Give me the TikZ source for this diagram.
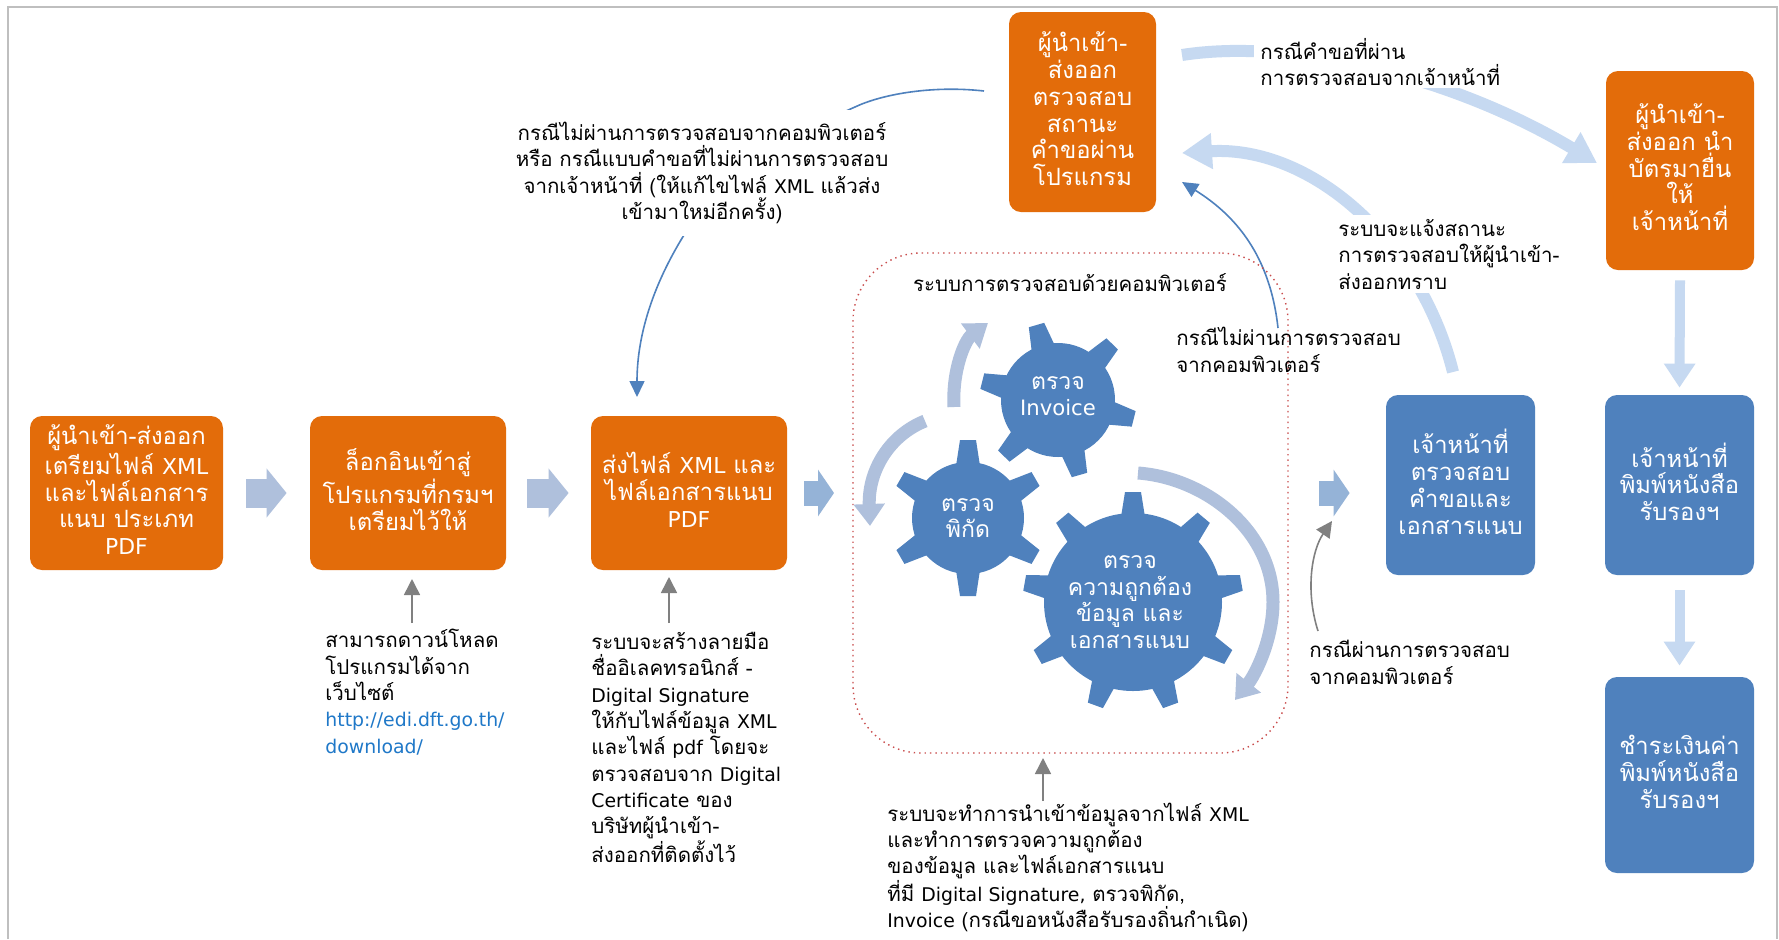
\documentclass[tikz,border=0pt]{standalone}
\usepackage{fontspec}
\setmainfont[Script=Thai]{Loma}
\newfontfamily\latf[Scale=0.92]{DejaVu Sans}
\usetikzlibrary{arrows.meta,calc}
\definecolor{orangebox}{HTML}{E36C0A}
\definecolor{bluebox}{HTML}{4F81BD}
\definecolor{paleA}{HTML}{AFC0DC}
\definecolor{paleB}{HTML}{95B3D7}
\definecolor{paleC}{HTML}{C6D9F1}
\definecolor{linkc}{HTML}{1F78C8}
\newcommand{\gearshape}[7]{%
  \fill[bluebox] (#1,#2) circle [radius=#3];
  \foreach \k in {1,...,#5}{%
    \pgfmathsetmacro\ang{#6+(\k-1)*360/#5-90}
    \fill[bluebox,shift={(#1,#2)},rotate=\ang] (-#7-4,{-#3+4}) -- (-#7,-#4) -- (#7,-#4) -- (#7+4,{-#3+4}) -- cycle;
  }}
\tikzset{
  x=0.5pt,y=-0.5pt,
  boxbase/.style={rounded corners=6pt,text=white,align=center,inner sep=0pt,text depth=3.3pt,font=\fontsize{11.9}{13.4}\selectfont},
  orangenode/.style={boxbase,fill=orangebox},
  bluenode/.style={boxbase,fill=bluebox},
  label/.style={inner sep=0pt,align=left,anchor=north west,font=\fontsize{10.25}{13.15}\selectfont},
  gearlabel/.style={inner sep=0pt,align=center,text=white,font=\fontsize{11.5}{13.2}\selectfont},
  blockA/.style={draw=paleA,line width=14.5pt,-{Triangle[length=10pt,width=24pt]}},
  blockB/.style={draw=paleB,line width=12.5pt,-{Triangle[length=8pt,width=23pt]}},
  paleflow/.style={draw=paleC,line width=6pt,-{Triangle[length=15pt,width=17pt]}},
  palestem/.style={draw=paleC,line width=5pt,-{Triangle[length=12pt,width=15pt]}},
  gearflow/.style={draw=paleA,line width=6.5pt,-{Triangle[length=11pt,width=15pt]}},
  thinblue/.style={draw=bluebox,line width=0.8pt,-{Triangle[length=8pt,width=7.5pt]}},
  thingray/.style={draw=gray,line width=0.8pt,-{Triangle[length=8pt,width=8pt]}},
}
\begin{document}
\begin{tikzpicture}
\useasboundingbox (0,0) rectangle (1779,939);
\fill[white] (0,0) rectangle (1779,939);
\draw[gray!50,line width=0.8pt] (8,939) -- (8,7) -- (1777,7) -- (1777,939);

% nodes: process boxes
\node[orangenode,minimum width=96.5pt,minimum height=77pt] (b1) at (126.5,493) {ผู้นำเข้า-ส่งออก\\เตรียมไฟล์ {\latf XML}\\และไฟล์เอกสาร\\แนบ ประเภท\\{\latf PDF}};
\node[orangenode,minimum width=98pt,minimum height=77pt] (b2) at (408,493) {ล็อกอินเข้าสู่\\โปรแกรมที่กรมฯ\\เตรียมไว้ให้};
\node[orangenode,minimum width=98pt,minimum height=77pt] (b3) at (689,493) {ส่งไฟล์ {\latf XML} และ\\ไฟล์เอกสารแนบ\\{\latf PDF}};
\node[orangenode,minimum width=73.5pt,minimum height=100pt] (top) at (1082.5,112) {ผู้นำเข้า-\\ส่งออก\\ตรวจสอบ\\สถานะ\\คำขอผ่าน\\โปรแกรม};
\node[orangenode,minimum width=74pt,minimum height=99.5pt] (rtop) at (1680,170.5) {ผู้นำเข้า-\\ส่งออก นำ\\บัตรมายื่น\\ให้\\เจ้าหน้าที่};
\node[bluenode,minimum width=74.5pt,minimum height=90pt] (off) at (1460.5,485) {เจ้าหน้าที่\\ตรวจสอบ\\คำขอและ\\เอกสารแนบ};
\node[bluenode,minimum width=74.5pt,minimum height=90pt] (print) at (1679.5,485) {เจ้าหน้าที่\\พิมพ์หนังสือ\\รับรองฯ};
\node[bluenode,minimum width=74.5pt,minimum height=98pt] (pay) at (1679.5,775) {ชำระเงินค่า\\พิมพ์หนังสือ\\รับรองฯ};

% named free ends
\coordinate (a3e) at (834,493);
\coordinate (a4s) at (1319,493);
\coordinate (a1s) at (1182,55);
\coordinate (a1t) at (1597,163);
\coordinate (a2s) at (1453,372);
\coordinate (a2t) at (1182,153);
\coordinate (f1s) at (1278,328);
\coordinate (f1t) at (1182,182);
\coordinate (f2s) at (984,91);
\coordinate (f2m) at (855,107);
\coordinate (f2n) at (684,235);
\coordinate (f2t) at (637,397);
\coordinate (g1s) at (412,623);
\coordinate (g1t) at (412,579);
\coordinate (g2s) at (669,623);
\coordinate (g2t) at (669,577);
\coordinate (g3s) at (1043,801);
\coordinate (g3t) at (1043,758);
\coordinate (g4s) at (1318,631);
\coordinate (g4t) at (1332,521);
\coordinate (r1s) at (954,407);
\coordinate (r1t) at (988,323);
\coordinate (r2s) at (925,421);
\coordinate (r2t) at (870,526);
\coordinate (r3s) at (1138,473);
\coordinate (r3m) at (1273,602);
\coordinate (r3t) at (1235,700);

% block arrows
\draw[blockA] ($(b1.east)+(23,0)$) -- ($(b2.west)+(-23,0)$);
\draw[blockA] ($(b2.east)+(21,0)$) -- ($(b3.west)+(-22,0)$);
\draw[blockB] (804,493) -- (a3e);
\draw[blockB] (a4s) -- ($(off.west)+(-36,8)$);
\draw[palestem] (rtop.south)++(0,10) -- ($(print.north)+(0,-7)$);
\draw[palestem] (print.south)++(0,15) -- ($(pay.north)+(0,-11)$);

% long curved pale arrows
\draw[paleflow] (a1s) .. controls (1290,38) and (1450,75) .. (a1t);
\draw[paleflow] (a2s) .. controls (1420,240) and (1310,145) .. (a2t);

% thin arrows
\draw[thinblue] (f1s) .. controls (1270,255) and (1235,215) .. (f1t);
\draw[thinblue] (f2s) .. controls (930,85) and (880,95) .. (f2m) .. controls (780,140) and (720,180) .. (f2n) .. controls (650,290) and (637,340) .. (f2t);
\draw[thingray] (g1s) -- (g1t);
\draw[thingray] (g2s) -- (g2t);
\draw[thingray] (g3s) -- (g3t);
\draw[thingray] (g4s) .. controls (1305,590) and (1312,550) .. (g4t);

% labels (white-backed where curves run behind them)
\node[label,align=center,anchor=center,fill=white,inner ysep=6pt] (lbtop) at (702,173) {กรณีไม่ผ่านการตรวจสอบจากคอมพิวเตอร์\\หรือ กรณีแบบคำขอที่ไม่ผ่านการตรวจสอบ\\จากเจ้าหน้าที่ (ให้แก้ไขไฟล์ {\latf XML} แล้วส่ง\\เข้ามาใหม่อีกครั้ง)};
\node[label,fill=white,inner xsep=3pt,inner ysep=1pt] (lbok) at (1254,36) {กรณีคำขอที่ผ่าน\\การตรวจสอบจากเจ้าหน้าที่};
\node[label,fill=white,inner xsep=3pt,inner ysep=2pt] (lbnotify) at (1332,215) {ระบบจะแจ้งสถานะ\\การตรวจสอบให้ผู้นำเข้า-\\ส่งออกทราบ};
\node[label] (lbdl) at (325,629) {สามารถดาวน์โหลด\\โปรแกรมได้จาก\\เว็บไซต์\\\textcolor{linkc}{\latf http://edi.dft.go.th/}\\\textcolor{linkc}{\latf download/}};
\node[label] (lbsig) at (591,632) {ระบบจะสร้างลายมือ\\ชื่ออิเลคทรอนิกส์ -\\{\latf Digital Signature}\\ให้กับไฟล์ข้อมูล {\latf XML}\\และไฟล์ {\latf pdf} โดยจะ\\ตรวจสอบจาก {\latf Digital}\\{\latf Certificate} ของ\\บริษัทผู้นำเข้า-\\ส่งออกที่ติดตั้งไว้};
\node[label] (lbfail) at (1176,327) {กรณีไม่ผ่านการตรวจสอบ\\จากคอมพิวเตอร์};
\node[label] (lbpass) at (1309,640) {กรณีผ่านการตรวจสอบ\\จากคอมพิวเตอร์};
\node[label,font=\fontsize{10.25}{12.9}\selectfont] (lbimp) at (887,803) {ระบบจะทำการนำเข้าข้อมูลจากไฟล์ {\latf XML}\\และทำการตรวจความถูกต้อง\\ของข้อมูล และไฟล์เอกสารแนบ\\ที่มี {\latf Digital Signature,} ตรวจพิกัด,\\{\latf Invoice} (กรณีขอหนังสือรับรองถิ่นกำเนิด)};

% computer-check group
\node[draw=red!70!black!70,dotted,line width=0.7pt,rounded corners=34pt,minimum width=217.5pt,minimum height=250pt,inner sep=0pt] (sys) at (1070.5,503) {};
\node[label,anchor=center] (lbsys) at (1070,283) {ระบบการตรวจสอบด้วยคอมพิวเตอร์};

% gears
\gearshape{1058}{400}{57}{78}{6}{-14}{8}
\gearshape{968}{518}{56}{78}{6}{90}{8}
\gearshape{1133}{602}{89}{110}{9}{90}{8}
\node[gearlabel] (g1) at (1058,396) {ตรวจ\\{\latf Invoice}};
\node[gearlabel] (g2) at (968,518) {ตรวจ\\พิกัด};
\node[gearlabel] (g3) at (1130,602) {ตรวจ\\ความถูกต้อง\\ข้อมูล และ\\เอกสารแนบ};

% gear-cycle arrows
\draw[gearflow] (r1s) .. controls (952,370) and (965,340) .. (r1t);
\draw[gearflow] (r2s) .. controls (890,435) and (868,470) .. (r2t);
\draw[gearflow] (r3s) .. controls (1205,478) and (1273,530) .. (r3m) .. controls (1273,640) and (1255,675) .. (r3t);
\end{tikzpicture}
\end{document}
